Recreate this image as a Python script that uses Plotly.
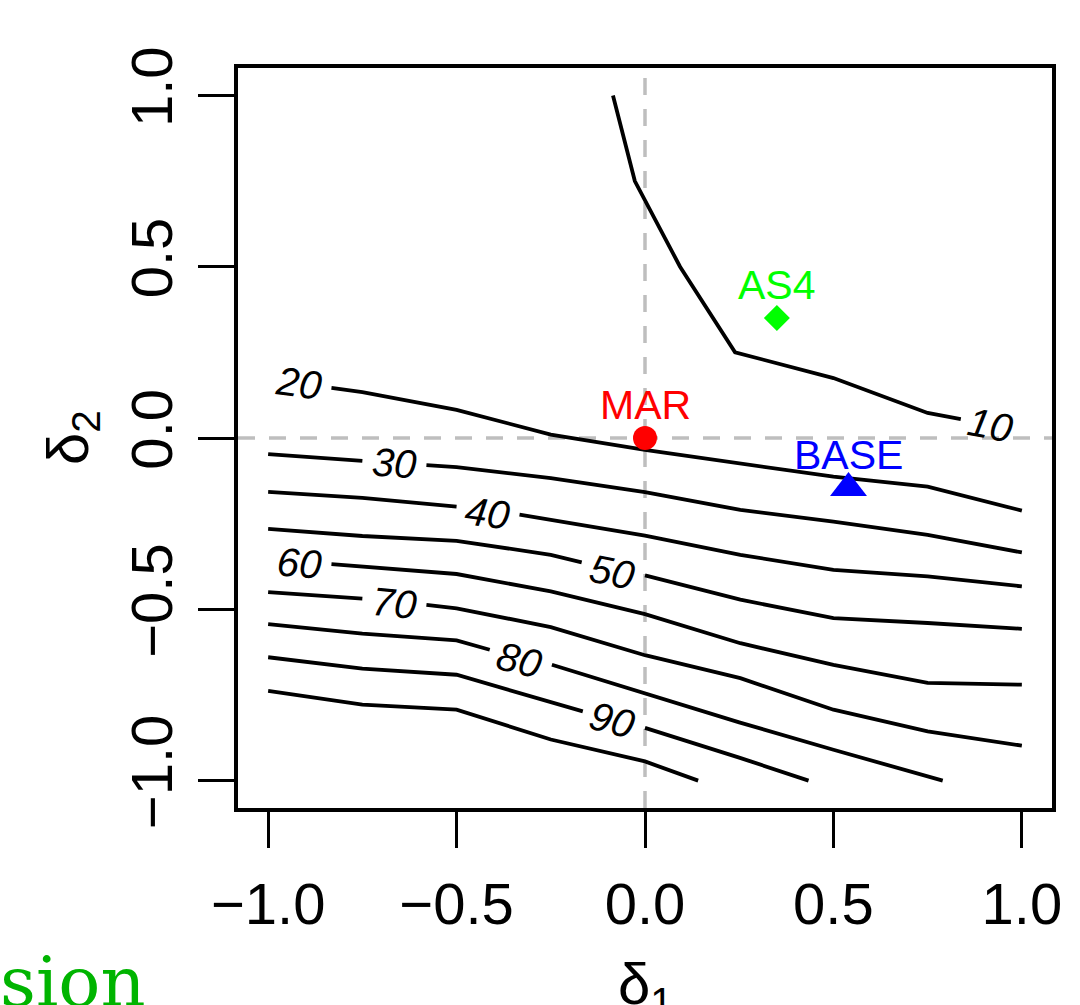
import math
import plotly.graph_objects as go

# ---------------- data ----------------
tick_vals = [-1.0, -0.5, 0.0, 0.5, 1.0]
tick_text = ["\u22121.0", "\u22120.5", "0.0", "0.5", "1.0"]

# contour lines (data units); None marks the gap left for a label
c10_x = [-0.085, -0.027, 0.093, 0.239, 0.5, 0.75, 0.838]
c10_y = [1.0, 0.75, 0.5, 0.25, 0.175, 0.073, 0.055]
c20_x = [-0.832, -0.75, -0.5, -0.25, 0.0, 0.253, 0.5, 0.75, 1.0]
c20_y = [0.146, 0.134, 0.082, 0.01, -0.035, -0.074, -0.113, -0.142, -0.212]
c30_x = [-1.0, -0.75, None, -0.58, -0.5, -0.25, 0.0, 0.253, 0.5, 0.75, 1.0]
c30_y = [-0.047, -0.067, None, -0.079, -0.085, -0.117, -0.158, -0.21, -0.244, -0.283, -0.334]
c40_x = [-1.0, -0.75, -0.5, None, -0.333, -0.25, 0.0, 0.253, 0.5, 0.75, 1.0]
c40_y = [-0.157, -0.175, -0.2, None, -0.224, -0.239, -0.285, -0.341, -0.385, -0.404, -0.433]
c50_x = [-1.0, -0.75, -0.5, -0.25, -0.168, None, 0.0, 0.253, 0.5, 0.75, 1.0]
c50_y = [-0.265, -0.286, -0.3, -0.341, -0.363, None, -0.401, -0.472, -0.526, -0.54, -0.557]
c60_x = [-0.832, -0.75, -0.5, -0.25, 0.0, 0.253, 0.5, 0.75, 1.0]
c60_y = [-0.368, -0.375, -0.397, -0.448, -0.514, -0.599, -0.662, -0.715, -0.72]
c70_x = [-1.0, -0.75, None, -0.58, -0.5, -0.25, 0.0, 0.253, 0.5, 0.75, 1.0]
c70_y = [-0.45, -0.469, None, -0.487, -0.497, -0.552, -0.634, -0.701, -0.793, -0.856, -0.898]
c80_x = [-1.0, -0.75, -0.5, -0.412, None, -0.247, 0.0, 0.25, 0.5, 0.79]
c80_y = [-0.543, -0.571, -0.591, -0.618, None, -0.662, -0.745, -0.83, -0.91, -1.0]
c90_x = [-1.0, -0.75, -0.5, -0.25, -0.165, None, 0.0, 0.25, 0.434]
c90_y = [-0.64, -0.673, -0.691, -0.769, -0.798, None, -0.846, -0.933, -1.0]
c100_x = [-1.0, -0.75, -0.5, -0.25, 0.0, 0.141]
c100_y = [-0.738, -0.778, -0.793, -0.88, -0.944, -1.0]

contour_x = [c10_x, c20_x, c30_x, c40_x, c50_x, c60_x, c70_x, c80_x, c90_x, c100_x]
contour_y = [c10_y, c20_y, c30_y, c40_y, c50_y, c60_y, c70_y, c80_y, c90_y, c100_y]

label_text = ["10", "20", "30", "40", "50", "60", "70", "80", "90"]
label_x = [0.918, -0.918, -0.665, -0.418, -0.085, -0.918, -0.665, -0.332, -0.085]
label_y = [0.038, 0.16, -0.073, -0.219, -0.39, -0.365, -0.481, -0.647, -0.822]

point_names = ["MAR", "AS4", "BASE"]
point_x = [0.0, 0.35, 0.54]
point_y = [0.0, 0.35, -0.146]
point_colors = ["#ff0000", "#00ff00", "#0000ff"]
point_symbols = ["circle", "diamond", "triangle-up"]
point_sizes = [24, 20, 32]

# ---------------- figure ----------------
W, H = 1080, 1005
ML, MR, MT, MB = 238, 28, 68, 197
XR = [-1.08, 1.08]
YR = [-1.08, 1.08]
PW, PH = W - ML - MR, H - MT - MB
sx = PW / (XR[1] - XR[0])
sy = PH / (YR[1] - YR[0])

FONT = "Liberation Sans, Arial, Helvetica, sans-serif"

fig = go.Figure()

for xs, ys in zip(contour_x, contour_y):
    fig.add_trace(go.Scatter(x=xs, y=ys, mode="lines",
                             line=dict(color="black", width=3.8),
                             connectgaps=False, hoverinfo="skip"))


def label_angle(xs, ys, lx):
    pts = list(zip(xs, ys))
    if None in xs:
        i = xs.index(None)
        (x0, y0), (x1, y1) = pts[i - 1], pts[i + 1]
    elif lx < xs[0]:
        (x0, y0), (x1, y1) = pts[0], pts[1]
    else:
        (x0, y0), (x1, y1) = pts[-2], pts[-1]
    return math.degrees(math.atan2(-(y1 - y0) * sy, (x1 - x0) * sx))


for k, (t, lx, ly) in enumerate(zip(label_text, label_x, label_y)):
    ang = label_angle(contour_x[k], contour_y[k], lx)
    fig.add_annotation(x=lx, y=ly, xref="x", yref="y", text=t, showarrow=False,
                       textangle=ang, xanchor="center", yanchor="middle",
                       font=dict(family=FONT, size=40, color="black", style="italic"))

fig.add_vline(x=0, line=dict(color="#bebebe", width=3.5, dash="17px,14px"), layer="below")
fig.add_hline(y=0, line=dict(color="#bebebe", width=3.5, dash="17px,14px"), layer="below")

for name, px_, py_, col, sym, sz in zip(point_names, point_x, point_y, point_colors,
                                        point_symbols, point_sizes):
    fig.add_trace(go.Scatter(x=[px_], y=[py_], mode="markers",
                             marker=dict(symbol=sym, size=sz, color=col, line=dict(width=0)),
                             hoverinfo="skip"))
    fig.add_annotation(x=px_, y=py_, xref="x", yref="y", text=name, showarrow=False,
                       yshift=33, xanchor="center", yanchor="middle",
                       font=dict(family=FONT, size=41, color=col))

axis_common = dict(tickvals=tick_vals, ticktext=tick_text, ticks="outside",
                   ticklen=36, tickwidth=3.3, tickcolor="black", showline=True,
                   mirror=True, linewidth=4, linecolor="black", showgrid=False,
                   zeroline=False, tickfont=dict(family=FONT, size=58, color="black"))
fig.update_xaxes(**axis_common, range=XR, ticklabelstandoff=6)
fig.update_yaxes(**axis_common, range=YR, tickangle=-90, ticklabelstandoff=3)

# axis titles
fig.add_annotation(x=0, y=-(988 - MT - PH) / PH, xref="x", yref="paper",
                   text="\u03b4<sub>1</sub>", showarrow=False, xanchor="center", yanchor="middle",
                   font=dict(family=FONT, size=58, color="black"))
fig.add_annotation(x=(72 - ML) / PW, y=0, xref="paper", yref="y",
                   text="\u03b4<sub>2</sub>", showarrow=False, textangle=-90,
                   xanchor="center", yanchor="middle",
                   font=dict(family=FONT, size=58, color="black"))

# fragment of surrounding document text (cut at the page edge)
fig.add_annotation(x=(-2 - ML) / PW, y=-(1003 - MT - PH) / PH,
                   xref="paper", yref="paper", text="sion", showarrow=False,
                   xanchor="left", yanchor="bottom", yshift=-22,
                   font=dict(family="DejaVu Serif, serif", size=70, color="#00b400"))

fig.update_layout(width=W, height=H, margin=dict(l=ML, r=MR, t=MT, b=MB),
                  plot_bgcolor="white", paper_bgcolor="white", showlegend=False)

fig.write_html("out.html")
